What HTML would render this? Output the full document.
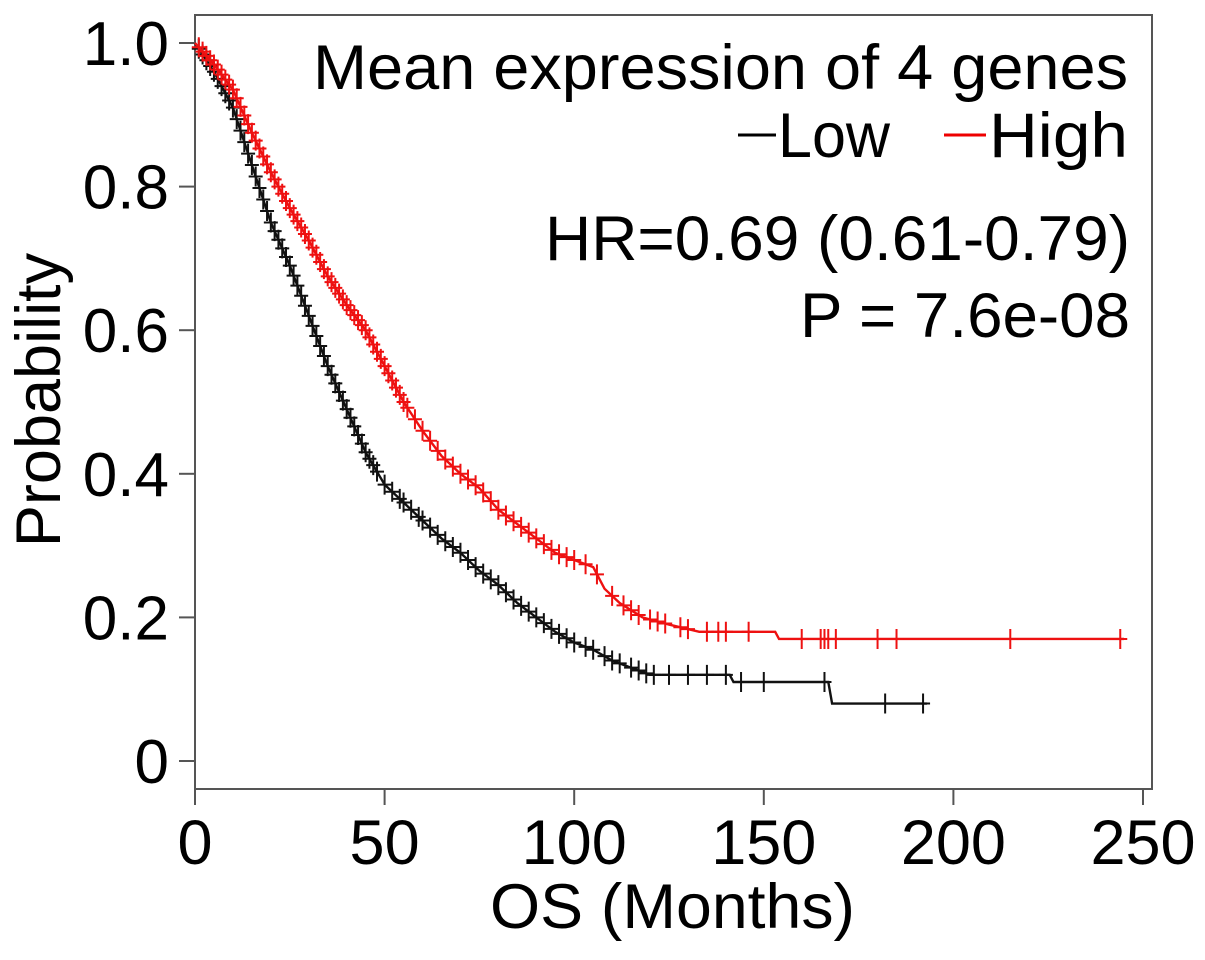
<!DOCTYPE html>
<html><head><meta charset="utf-8">
<style>
html,body{margin:0;padding:0;background:#fff;}
svg{display:block;font-family:"Liberation Sans",Arial,sans-serif;}
</style></head>
<body>
<svg id="chart" width="1205" height="960" viewBox="0 0 1205 960" xmlns="http://www.w3.org/2000/svg">
<rect x="0" y="0" width="1205" height="960" fill="#fff"/>
<g id="axes"></g>
<g id="series"></g>
<g>
  <text x="313" y="89" font-size="63" textLength="815" lengthAdjust="spacingAndGlyphs" fill="#000">Mean expression of 4 genes</text>
  <line x1="738" y1="135" x2="776" y2="135" stroke="#000" stroke-width="3"/>
  <text x="778" y="157" font-size="63" textLength="112" lengthAdjust="spacingAndGlyphs" fill="#000">Low</text>
  <line x1="944" y1="135" x2="986" y2="135" stroke="#e00" stroke-width="3"/>
  <text x="989" y="157" font-size="63" textLength="139" lengthAdjust="spacingAndGlyphs" fill="#000">High</text>
  <text x="545" y="260" font-size="63" textLength="585" lengthAdjust="spacingAndGlyphs" fill="#000">HR=0.69 (0.61-0.79)</text>
  <text x="800" y="337" font-size="63" textLength="330" lengthAdjust="spacingAndGlyphs" fill="#000">P = 7.6e-08</text>
</g>
</svg>
<script>
const xTicks = [0, 50, 100, 150, 200, 250];
const yTicks = [0, 0.2, 0.4, 0.6, 0.8, 1.0];
const yTickLabels = ["0", "0.2", "0.4", "0.6", "0.8", "1.0"];
const lowTimes = [0,5,10,15,20,25,30,35,40,45,50,55,60,65,70,75,80,85,90,95,100,105,110,115,120,141,142,167,168,193];
const lowSurv  = [1,0.96,0.91,0.83,0.75,0.69,0.62,0.55,0.49,0.43,0.385,0.36,0.335,0.31,0.29,0.265,0.245,0.22,0.20,0.18,0.165,0.155,0.14,0.13,0.12,0.12,0.11,0.11,0.08,0.08];
const highTimes = [0,5,10,15,20,25,30,35,40,45,50,55,60,65,70,75,80,85,90,95,100,105,108,112,118,125,133,153,154,245];
const highSurv  = [1,0.97,0.935,0.875,0.82,0.77,0.725,0.675,0.635,0.60,0.55,0.50,0.46,0.425,0.40,0.38,0.35,0.33,0.31,0.29,0.28,0.27,0.24,0.22,0.20,0.19,0.18,0.18,0.17,0.17];
const lowCensor = [1,2,3,4,5,6,7,8,9,10,11,12,13,14,15,16,17,18,19,20,21,22,23,24,25,26,27,28,29,30,31,32,33,34,35,36,37,38,39,40,41,42,43,44,45,46,47,48,50,52,54,55,57,59,60,62,64,66,68,70,72,74,76,78,80,82,84,86,88,90,92,94,96,98,100,103,105,108,110,112,115,117,119,121,125,130,135,140,144,150,166,182,192];
const highCensor = [1,2,3,4,5,6,7,8,9,10,11,12,13,14,15,16,17,18,19,20,21,22,23,24,25,26,27,28,29,30,31,32,33,34,35,36,37,38,39,40,41,42,43,44,45,46,47,48,49,50,51,52,53,54,55,56,58,60,62,64,66,68,70,72,74,76,78,80,82,84,86,88,90,92,94,96,98,100,103,106,110,113,115,117,120,122,124,128,130,135,138,140,146,160,165,166,167,169,180,185,215,244];

const X0 = 195, PXM = 3.792;
const Y0 = 761, PXP = 718;
const xs = t => X0 + t * PXM;
const ys = p => Y0 - p * PXP;
const NS = "http://www.w3.org/2000/svg";
function mk(tag, attrs, parent){ const e=document.createElementNS(NS,tag); for(const k in attrs) e.setAttribute(k,attrs[k]); parent.appendChild(e); return e; }
function survAt(times, surv, t){
  for(let i=1;i<times.length;i++){ if(t<=times[i]){ const f=(t-times[i-1])/(times[i]-times[i-1]); return surv[i-1]+f*(surv[i]-surv[i-1]); } }
  return surv[surv.length-1];
}
const axes = document.getElementById('axes');
const box = mk('path',{d:`M${X0} 15 L1152 15 L1152 789 L${X0} 789 Z`,fill:'none',stroke:'#555','stroke-width':2},axes);


xTicks.forEach(v=>{
  const l=mk('line',{x1:xs(v),x2:xs(v),y1:789,y2:805,stroke:'#555','stroke-width':2},axes);
  
  
  const t=mk('text',{x:xs(v),y:864,'font-size':63,'text-anchor':'middle',fill:'#000'},axes);
  t.textContent=String(v);
  
  
});
yTicks.forEach((v,i)=>{
  const l=mk('line',{x1:179,x2:X0,y1:ys(v),y2:ys(v),stroke:'#555','stroke-width':2},axes);
  
  
  const t=mk('text',{x:169,y:ys(v)+22,'font-size':62,'text-anchor':'end',fill:'#000'},axes);
  t.textContent=yTickLabels[i];
  
  
});
const xt=mk('text',{x:490,y:928,'font-size':63,textLength:365,lengthAdjust:'spacingAndGlyphs',fill:'#000'},axes);
xt.textContent='OS (Months)';


const yt=mk('text',{x:0,y:0,'font-size':63,'text-anchor':'middle',fill:'#000',transform:'translate(60,400) rotate(-90)'},axes);
yt.textContent='Probability';



const series=document.getElementById('series');
function drawSeries(times, surv, cens, color, name){
  const g=mk('g',{},series);
  
  
  const d=times.map((t,i)=>(i?'L':'M')+xs(t).toFixed(1)+' '+ys(surv[i]).toFixed(1)).join(' ');
  const p=mk('path',{d:d,fill:'none',stroke:color,'stroke-width':2.4},g);
  
  
  cens.forEach(t=>{
    const yy=ys(survAt(times,surv,t)), xx=xs(t);
    const c=mk('path',{d:`M${xx} ${yy-10} L${xx} ${yy+10} M${xx-7} ${yy} L${xx+7} ${yy}`,stroke:color,'stroke-width':2},g);
    
    
  });
}
drawSeries(lowTimes, lowSurv, lowCensor, '#111', 'low');
drawSeries(highTimes, highSurv, highCensor, '#ee1111', 'high');
</script>
</body></html>
